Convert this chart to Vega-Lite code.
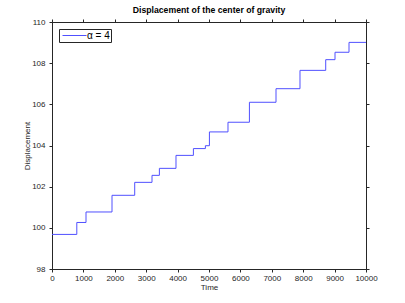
{
  "$schema": "https://vega.github.io/schema/vega-lite/v6.json",
  "width": 314,
  "height": 247,
  "autosize": {"type": "none"},
  "padding": {"left": 52, "top": 22, "right": 39, "bottom": 34},
  "background": "white",
  "title": {"text": "Displacement of the center of gravity", "fontSize": 8.7, "fontWeight": "bold", "font": "Liberation Sans", "color": "#000000", "offset": 3},
  "config": {
    "view": {"stroke": "#262626", "strokeWidth": 1},
    "font": "Liberation Sans",
    "axis": {"grid": false, "domainColor": "#262626", "labelColor": "#262626", "labelFontSize": 8, "titleFontSize": 8, "titleFontWeight": "normal", "titleColor": "#262626", "ticks": true, "tickSize": 3, "tickColor": "#262626", "tickWidth": 1}
  },
  "data": {"values": [
    {"t": 0, "d": 99.68, "s": "α = 4"},
    {"t": 790, "d": 100.26, "s": "α = 4"},
    {"t": 1083, "d": 100.77, "s": "α = 4"},
    {"t": 1911, "d": 101.58, "s": "α = 4"},
    {"t": 2634, "d": 102.21, "s": "α = 4"},
    {"t": 3185, "d": 102.55, "s": "α = 4"},
    {"t": 3420, "d": 102.89, "s": "α = 4"},
    {"t": 3949, "d": 103.52, "s": "α = 4"},
    {"t": 4503, "d": 103.85, "s": "α = 4"},
    {"t": 4885, "d": 103.99, "s": "α = 4"},
    {"t": 5013, "d": 104.66, "s": "α = 4"},
    {"t": 5605, "d": 105.13, "s": "α = 4"},
    {"t": 6287, "d": 106.1, "s": "α = 4"},
    {"t": 7134, "d": 106.76, "s": "α = 4"},
    {"t": 7898, "d": 107.65, "s": "α = 4"},
    {"t": 8717, "d": 108.17, "s": "α = 4"},
    {"t": 9013, "d": 108.53, "s": "α = 4"},
    {"t": 9459, "d": 109.01, "s": "α = 4"},
    {"t": 10000, "d": 109.01, "s": "α = 4"}
  ]},
  "layer": [
    {
      "mark": {"type": "line", "interpolate": "step-after", "strokeWidth": 1, "opacity": 0},
      "encoding": {
        "x": {"field": "t", "type": "quantitative", "scale": {"domain": [0, 10000], "nice": false},
          "axis": {"orient": "top", "title": null, "labels": false, "values": [0,1000,2000,3000,4000,5000,6000,7000,8000,9000,10000]}},
        "y": {"field": "d", "type": "quantitative", "scale": {"domain": [98, 110], "nice": false, "zero": false},
          "axis": {"orient": "right", "title": null, "labels": false, "values": [98,100,102,104,106,108,110]}}
      }
    },
    {
      "mark": {"type": "line", "interpolate": "step-after", "strokeWidth": 1},
      "encoding": {
        "x": {"field": "t", "type": "quantitative", "scale": {"domain": [0, 10000], "nice": false},
          "axis": {"orient": "bottom", "title": "Time", "labelPadding": 2, "values": [0,1000,2000,3000,4000,5000,6000,7000,8000,9000,10000], "format": "d", "titlePadding": 1, "labelFlush": false}},
        "y": {"field": "d", "type": "quantitative", "scale": {"domain": [98, 110], "nice": false, "zero": false},
          "axis": {"orient": "left", "title": "Displacement", "labelPadding": 4, "values": [98,100,102,104,106,108,110], "format": "d", "titlePadding": 0, "labelFlush": false}},
        "color": {"field": "s", "type": "nominal", "scale": {"range": ["#5050ff"]},
          "legend": {"title": null, "orient": "top-left", "offset": 7, "symbolType": "M-2.4,0H2.4", "symbolSize": 100, "symbolOffset": 9, "labelOffset": 7, "symbolStrokeWidth": 1, "symbolStrokeColor": "#5050ff", "labelFontSize": 10, "labelColor": "#000000", "strokeColor": "#262626", "fillColor": "white", "padding": 1}}
      }
    }
  ],
  "resolve": {"axis": {"x": "independent", "y": "independent"}}
}
